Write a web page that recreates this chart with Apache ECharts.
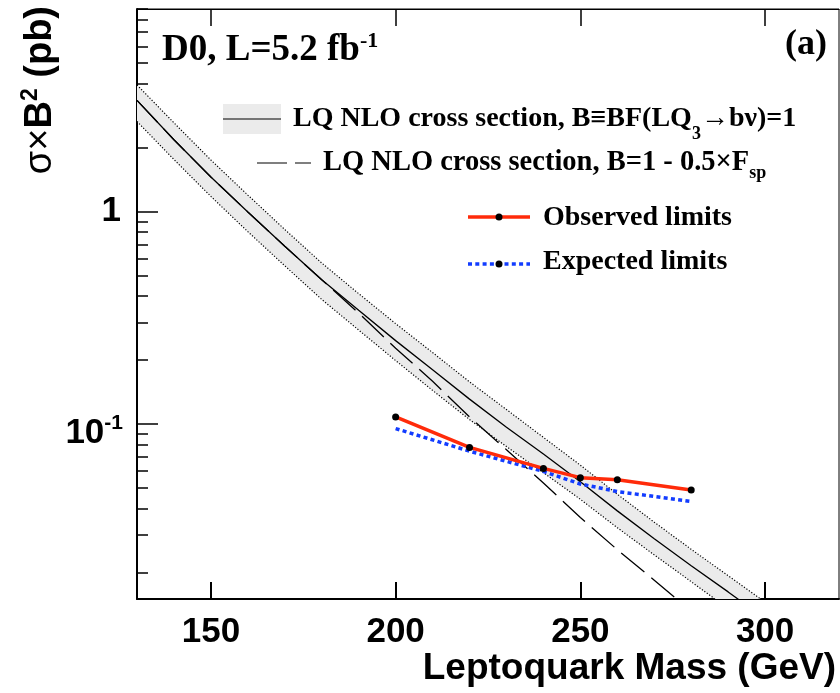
<!DOCTYPE html>
<html>
<head>
<meta charset="utf-8">
<script src="https://cdn.jsdelivr.net/npm/echarts@6/dist/echarts.min.js"></script>
<style>
  html, body { margin: 0; padding: 0; background: #fff; }
  #chart { width: 840px; height: 693px; }
</style>
</head>
<body>
<div id="chart"></div>
<script>
// Leptoquark mass grid (GeV) for the NLO cross-section curves
const massGrid = [130, 140, 150, 160, 170, 180, 190, 200, 210, 220, 230, 240, 250, 260, 270, 280, 290, 300];
// NLO cross section (pb), B = 1: central value and uncertainty band edges
const nloCentral = [3.34, 2.18, 1.455, 0.997, 0.687, 0.478, 0.343, 0.247, 0.180, 0.131, 0.0966, 0.0723, 0.0535, 0.0390, 0.0288, 0.0215, 0.0162, 0.0121];
const nloUpper   = [3.95, 2.62, 1.75, 1.197, 0.824, 0.573, 0.411, 0.297, 0.217, 0.158, 0.117, 0.0865, 0.064, 0.0467, 0.0345, 0.0257, 0.0193, 0.0145];
const nloLower   = [2.66, 1.76, 1.18, 0.805, 0.556, 0.386, 0.277, 0.199, 0.144, 0.105, 0.0783, 0.059, 0.0442, 0.0325, 0.0242, 0.0181, 0.0135, 0.0101];
// NLO cross section times B^2 with B = 1 - 0.5 x F_sp
const massReduced = [130, 140, 150, 160, 170, 180, 190, 200, 210, 220, 230, 240, 250, 260, 270, 280];
const nloReduced  = [3.34, 2.18, 1.455, 0.997, 0.687, 0.478, 0.333, 0.2275, 0.159, 0.108, 0.0757, 0.0528, 0.0363, 0.0256, 0.0184, 0.0131];
// 95% C.L. limits (pb)
const limitMass     = [200, 220, 240, 250, 260, 280];
const observedLimit = [0.108, 0.0776, 0.0618, 0.0559, 0.0547, 0.0489];
const expectedLimit = [0.0952, 0.0745, 0.0598, 0.0522, 0.0481, 0.0432];
// Axis ticks
const xTickValues  = [150, 200, 250, 300];
const yMajorTicks  = [0.1, 1];
const yMinorTicks  = [0.02, 0.03, 0.04, 0.05, 0.06, 0.07, 0.08, 0.09,
                      0.2, 0.3, 0.4, 0.5, 0.6, 0.7, 0.8, 0.9,
                      2, 3, 4, 5, 6, 7, 8, 9];

const SANS = "'Liberation Sans', Arial, Helvetica, sans-serif";
const SERIF = "'Liberation Serif', 'Times New Roman', Times, serif";
const RED = '#ff2b0a';
const BLUE = '#123cff';

const pairs = (xs, ys) => xs.map((x, i) => [x, ys[i]]);

const chart = echarts.init(document.getElementById('chart'), null, { renderer: 'canvas' });

const yRange = { type: 'log', logBase: 10, min: 0.015, max: 9 };

const option = {
  animation: false,
  backgroundColor: '#fff',
  grid: {
    left: 137, right: 1, top: 9, bottom: 94,
    show: true, borderColor: '#000', borderWidth: 1, backgroundColor: 'transparent'
  },
  xAxis: [
    {
      type: 'value', min: 130, max: 320, position: 'bottom',
      axisLine: { onZero: false, lineStyle: { color: '#000', width: 2 } },
      axisTick: { inside: true, length: 17, customValues: xTickValues, lineStyle: { color: '#000', width: 2 } },
      axisLabel: {
        customValues: xTickValues, color: '#000', fontSize: 35, fontWeight: 'bold',
        fontFamily: SANS, margin: 16
      },
      splitLine: { show: false }
    },
    {
      type: 'value', min: 130, max: 320, position: 'top',
      axisLine: { onZero: false, lineStyle: { color: '#000', width: 1 } },
      axisTick: { inside: true, length: 17, customValues: xTickValues, lineStyle: { color: '#000', width: 1.5 } },
      axisLabel: { show: false },
      splitLine: { show: false }
    }
  ],
  yAxis: [
    Object.assign({}, yRange, {
      position: 'left',
      axisLine: { show: true, onZero: false, lineStyle: { color: '#000', width: 2 } },
      axisTick: { inside: true, length: 21, customValues: yMajorTicks, lineStyle: { color: '#000', width: 1.5 } },
      axisLabel: {
        customValues: [1], color: '#000', fontSize: 35, fontWeight: 'bold',
        fontFamily: SANS, margin: 16, formatter: () => '1'
      },
      splitLine: { show: false }
    }),
    Object.assign({}, yRange, {
      position: 'left',
      axisLine: { show: false },
      axisTick: { inside: true, length: 11, customValues: yMinorTicks, lineStyle: { color: '#000', width: 1.5 } },
      axisLabel: {
        customValues: [0.1], margin: 14, padding: [18, 0, 0, 0],
        formatter: () => '{b|10}{s|-1}',
        rich: {
          b: { fontSize: 35, fontWeight: 'bold', fontFamily: SANS, color: '#000', lineHeight: 40 },
          s: { fontSize: 21, fontWeight: 'bold', fontFamily: SANS, color: '#000', lineHeight: 21, verticalAlign: 'top' }
        }
      },
      splitLine: { show: false }
    })
  ],
  series: [
    {
      // shaded uncertainty band of the NLO cross section
      type: 'custom',
      xAxisIndex: 0, yAxisIndex: 0,
      silent: true,
      z: 1,
      data: [[massGrid[0], nloCentral[0]]],
      renderItem: function (params, api) {
        const top = massGrid.map((m, i) => api.coord([m, nloUpper[i]]));
        const bottom = massGrid.map((m, i) => api.coord([m, nloLower[i]])).reverse();
        const cs = params.coordSys;
        return {
          type: 'polygon',
          shape: { points: top.concat(bottom) },
          style: { fill: '#ebebeb', stroke: null },
          clipPath: { type: 'rect', shape: { x: cs.x, y: cs.y, width: cs.width, height: cs.height } }
        };
      }
    },
    {
      type: 'line', name: 'band upper', data: pairs(massGrid, nloUpper),
      showSymbol: false, silent: true, z: 2,
      lineStyle: { color: '#000', width: 1.2, type: [1.2, 1.8] }
    },
    {
      type: 'line', name: 'band lower', data: pairs(massGrid, nloLower),
      showSymbol: false, silent: true, z: 2,
      lineStyle: { color: '#000', width: 1.2, type: [1.2, 1.8] }
    },
    {
      type: 'line', name: 'LQ NLO B=1', data: pairs(massGrid, nloCentral),
      showSymbol: false, silent: true, z: 3,
      lineStyle: { color: '#000', width: 1.3 }
    },
    {
      type: 'line', name: 'LQ NLO Fsp', data: pairs(massReduced, nloReduced),
      showSymbol: false, silent: true, z: 3,
      lineStyle: { color: '#000', width: 1.3, type: [30, 9] }
    },
    {
      type: 'line', name: 'Expected limits', data: pairs(limitMass, expectedLimit),
      showSymbol: false, silent: true, z: 4,
      lineStyle: { color: BLUE, width: 3.5, type: [4, 3.3] }
    },
    {
      type: 'line', name: 'Observed limits', data: pairs(limitMass, observedLimit),
      symbol: 'circle', symbolSize: 7, showSymbol: true, silent: true, z: 5,
      itemStyle: { color: '#000', borderWidth: 0 },
      lineStyle: { color: RED, width: 3.5 }
    }
  ],
  graphic: [
    // axis titles
    {
      type: 'text', x: 836, y: 669, silent: true,
      style: {
        text: 'Leptoquark Mass (GeV)', align: 'right', verticalAlign: 'middle',
        fill: '#000', font: 'bold 37px ' + SANS
      }
    },
    {
      type: 'text', x: 41, y: 6, rotation: Math.PI / 2, silent: true,
      style: {
        text: '{n|σ×}{b|B}{s|2}{b| (pb)}', align: 'right', verticalAlign: 'middle',
        rich: {
          n: { fontSize: 38, fontFamily: SANS, fill: '#000', lineHeight: 44 },
          b: { fontSize: 38, fontWeight: 'bold', fontFamily: SANS, fill: '#000', lineHeight: 44 },
          s: { fontSize: 23, fontWeight: 'bold', fontFamily: SANS, fill: '#000', lineHeight: 28, verticalAlign: 'top' }
        }
      }
    },
    // experiment label and panel tag
    {
      type: 'text', x: 162, y: 50, silent: true,
      style: {
        text: '{m|D0, L=5.2 fb}{s|-1}', align: 'left', verticalAlign: 'middle',
        rich: {
          m: { fontSize: 37, fontWeight: 'bold', fontFamily: SERIF, fill: '#000', lineHeight: 40 },
          s: { fontSize: 22, fontWeight: 'bold', fontFamily: SERIF, fill: '#000', lineHeight: 28, verticalAlign: 'top' }
        }
      }
    },
    {
      type: 'text', x: 827, y: 45, silent: true,
      style: { text: '(a)', align: 'right', verticalAlign: 'middle', fill: '#000', font: 'bold 36px ' + SERIF }
    },
    // legend: NLO band with central line
    { type: 'rect', silent: true, shape: { x: 223, y: 104, width: 58, height: 30 }, style: { fill: '#ebebeb' } },
    { type: 'line', silent: true, shape: { x1: 223, y1: 119, x2: 281, y2: 119 }, style: { stroke: '#000', lineWidth: 1.2 } },
    {
      type: 'text', x: 293, y: 119, silent: true,
      style: {
        text: '{t|LQ NLO cross section, B≡BF(LQ}{s|3}{t|→bν)=1}', align: 'left', verticalAlign: 'middle',
        rich: {
          t: { fontSize: 28, fontWeight: 'bold', fontFamily: SERIF, fill: '#000', lineHeight: 48 },
          s: { fontSize: 18, fontWeight: 'bold', fontFamily: SERIF, fill: '#000', lineHeight: 18, verticalAlign: 'bottom' }
        }
      }
    },
    // legend: reduced-B curve
    { type: 'line', silent: true, shape: { x1: 257, y1: 163, x2: 311, y2: 163 }, style: { stroke: '#000', lineWidth: 1.2, lineDash: [30, 8] } },
    {
      type: 'text', x: 323, y: 163, silent: true,
      style: {
        text: '{t|LQ NLO cross section, B=1 - 0.5×F}{s|sp}', align: 'left', verticalAlign: 'middle',
        rich: {
          t: { fontSize: 28.5, fontWeight: 'bold', fontFamily: SERIF, fill: '#000', lineHeight: 39 },
          s: { fontSize: 18, fontWeight: 'bold', fontFamily: SERIF, fill: '#000', lineHeight: 18, verticalAlign: 'bottom' }
        }
      }
    },
    // legend: observed limits
    { type: 'line', silent: true, shape: { x1: 468, y1: 217, x2: 530, y2: 217 }, style: { stroke: RED, lineWidth: 3.5 } },
    { type: 'circle', silent: true, shape: { cx: 499, cy: 217, r: 3.5 }, style: { fill: '#000' } },
    {
      type: 'text', x: 543, y: 218, silent: true,
      style: { text: 'Observed limits', align: 'left', verticalAlign: 'middle', fill: '#000', font: 'bold 28px ' + SERIF }
    },
    // legend: expected limits
    { type: 'line', silent: true, shape: { x1: 468, y1: 264, x2: 530, y2: 264 }, style: { stroke: BLUE, lineWidth: 3.5, lineDash: [4, 3.3] } },
    { type: 'circle', silent: true, shape: { cx: 499, cy: 264, r: 3.5 }, style: { fill: '#000' } },
    {
      type: 'text', x: 543, y: 262, silent: true,
      style: { text: 'Expected limits', align: 'left', verticalAlign: 'middle', fill: '#000', font: 'bold 28px ' + SERIF }
    }
  ]
};

chart.setOption(option);
</script>
</body>
</html>
